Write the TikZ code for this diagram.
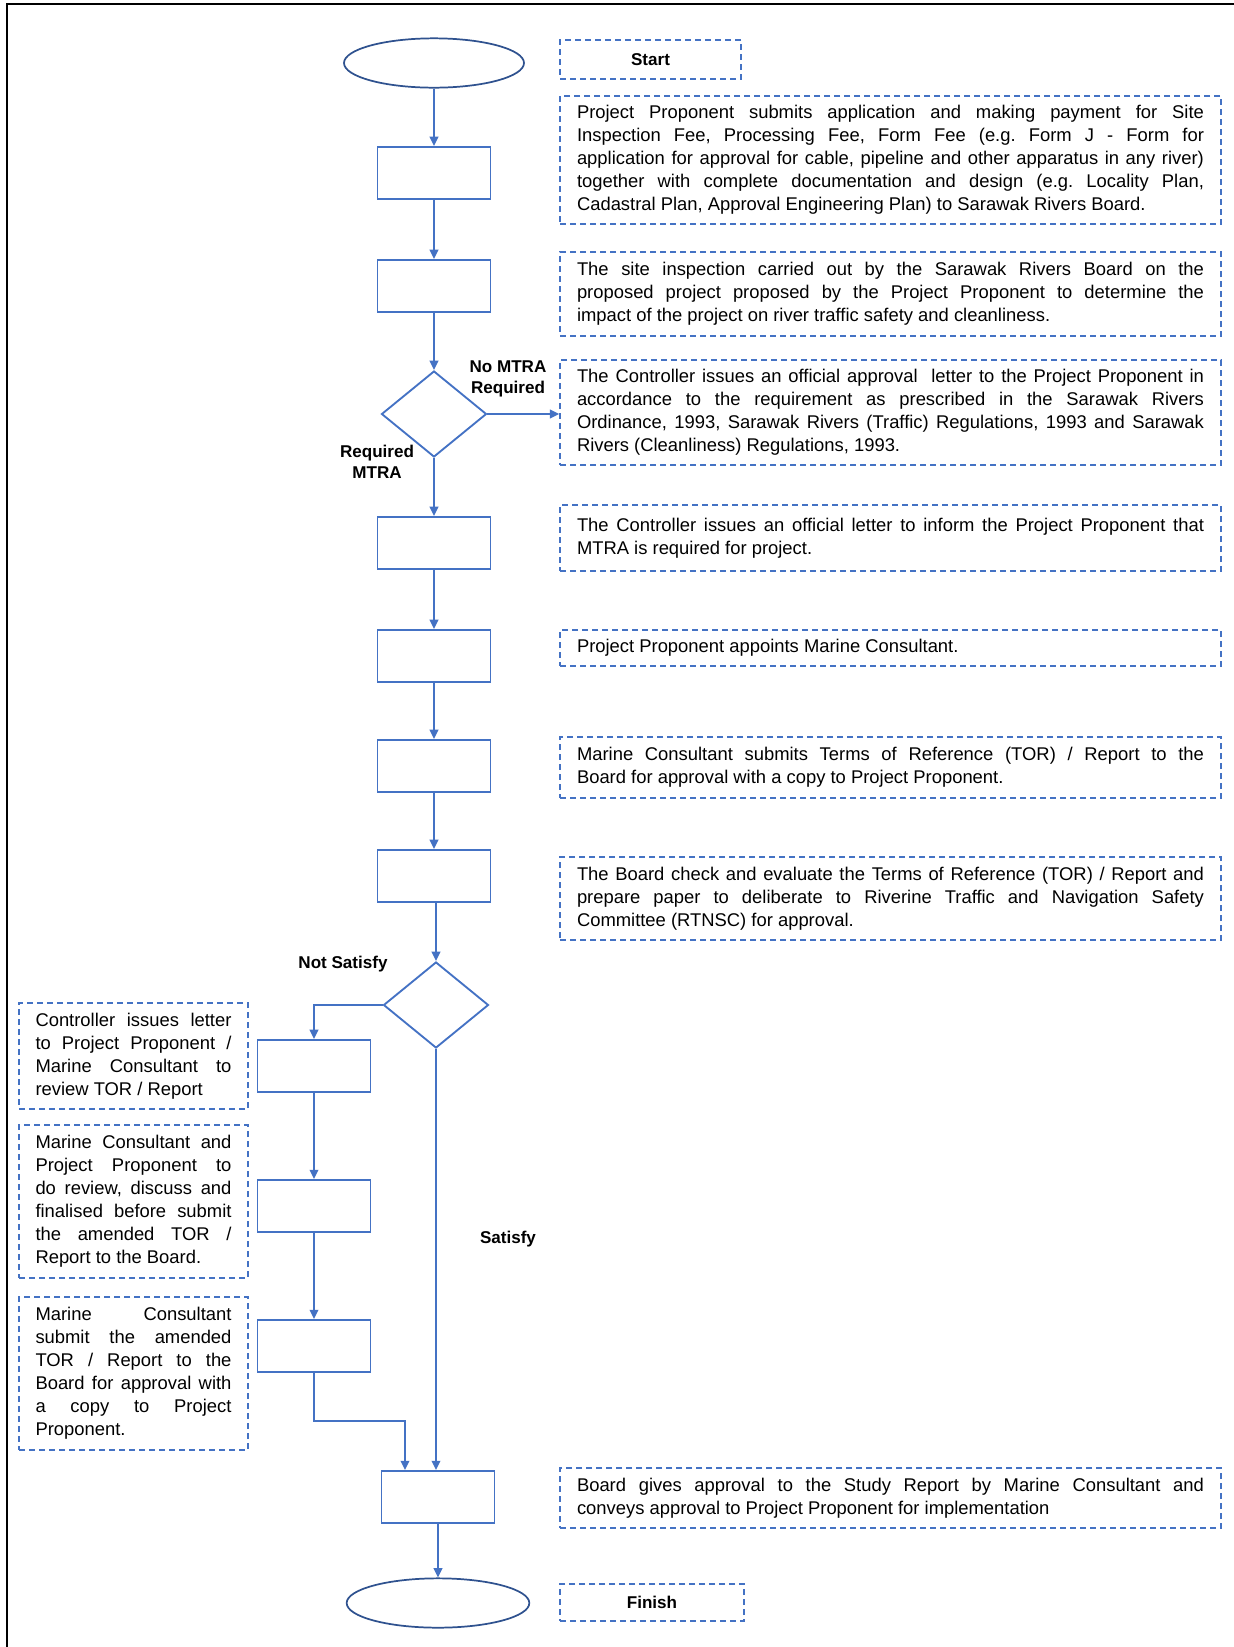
\documentclass[tikz,border=0pt]{standalone}
\usepackage{fontspec}
\setmainfont{Liberation Sans}
\usepackage{tikz}
\usetikzlibrary{shapes.geometric}
\usetikzlibrary{arrows.meta}
\definecolor{flowblue}{RGB}{68,114,196}
\definecolor{termblue}{RGB}{47,82,143}
\newcommand{\bodyfont}{\frenchspacing\fontsize{13.8pt}{17.25pt}\selectfont}
\newcommand{\lblfont}{\fontsize{12.8pt}{15.75pt}\selectfont\bfseries}
\tikzset{
  proc/.style={draw=flowblue, line width=1.4pt, minimum width=84.75pt, minimum height=39pt, inner sep=0pt},
  decision/.style={diamond, draw=flowblue, line width=1.4pt, minimum width=78.75pt, minimum height=64.5pt, inner sep=0pt},
  terminal/.style={ellipse, draw=termblue, line width=1.3pt, minimum width=135pt, minimum height=37pt, inner sep=0pt},
  note/.style={draw=flowblue, line width=1.2pt, dash pattern=on 4.5pt off 3pt, text width=470.25pt,
    inner xsep=12.75pt, inner ysep=3pt, align=justify, font=\bodyfont},
  sidenote/.style={note, text width=147pt, inner xsep=12.375pt},
  tag/.style={draw=flowblue, line width=1.2pt, dash pattern=on 4.5pt off 3pt, inner sep=0pt, font=\lblfont},
  lbl/.style={align=center, font=\lblfont},
  flow/.style={draw=flowblue, line width=1.4pt, -{Triangle[length=7pt,width=6.5pt]}}
}
\begin{document}
\begin{tikzpicture}[x=0.75pt, y=-0.75pt]
  \useasboundingbox (0,0) rectangle (1234,1647);
  \draw[line width=1.5pt] (7,1647) -- (7,4) -- (1234,4);

  % main column
  \node[terminal] (start) at (434,63) {};
  \node[proc] (p1) at (434,173) {};
  \node[proc] (p2) at (434,286) {};
  \node[decision] (d1) at (434,414) {};
  \node[proc] (p3) at (434,543) {};
  \node[proc] (p4) at (434,656) {};
  \node[proc] (p5) at (434,766) {};
  \node[proc] (p6) at (434,876) {};
  \node[decision] (d2) at (436,1005) {};
  \node[proc] (fin) at (438,1497) {};
  \node[terminal, minimum width=137pt] (finish) at (438,1603) {};

  % left branch
  \node[proc] (l1) at (314,1066) {};
  \node[proc] (l2) at (314,1206) {};
  \node[proc] (l3) at (314,1346) {};
  \coordinate (bend) at (405,1421);

  % descriptions
  \node[tag, minimum width=135.75pt, minimum height=29.25pt] (tstart) at (650.5,59.5) {Start};
  \node[note, minimum height=96pt] (t1) at (890.5,160) {Project Proponent submits application and making payment for Site\linebreak
    Inspection Fee, Processing Fee, Form Fee (e.g. Form J - Form for\linebreak
    application for approval for cable, pipeline and other apparatus in any river)\linebreak
    together with complete documentation and design (e.g. Locality Plan,\linebreak
    Cadastral Plan, Approval Engineering Plan) to Sarawak Rivers Board.};
  \node[note, minimum height=63pt] (t2) at (890.5,294) {The site inspection carried out by the Sarawak Rivers Board on the\linebreak
    proposed project proposed by the Project Proponent to determine the\linebreak
    impact of the project on river traffic safety and cleanliness.};
  \node[note, minimum height=78.75pt] (t3) at (890.5,412.5) {The Controller issues an official approval\ \ letter to the Project Proponent in\linebreak
    accordance to the requirement as prescribed in the Sarawak Rivers\linebreak
    Ordinance, 1993, Sarawak Rivers (Traffic) Regulations, 1993 and Sarawak\linebreak
    Rivers (Cleanliness) Regulations, 1993.};
  \node[note, minimum height=49.5pt] (t4) at (890.5,538) {The Controller issues an official letter to inform the Project Proponent that\linebreak
    MTRA is required for project.};
  \node[note, minimum height=27pt] (t5) at (890.5,648) {Project Proponent appoints Marine Consultant.};
  \node[note, minimum height=45.75pt] (t6) at (890.5,767.5) {Marine Consultant submits Terms of Reference (TOR) / Report to the\linebreak
    Board for approval with a copy to Project Proponent.};
  \node[note, minimum height=62.25pt] (t7) at (890.5,898.5) {The Board check and evaluate the Terms of Reference (TOR) / Report and\linebreak
    prepare paper to deliberate to Riverine Traffic and Navigation Safety\linebreak
    Committee (RTNSC) for approval.};
  \node[sidenote, minimum height=79.5pt] (tl1) at (133.5,1056) {Controller issues letter\linebreak
    to Project Proponent /\linebreak Marine Consultant to\linebreak review TOR / Report};
  \node[sidenote, minimum height=114.75pt] (tl2) at (133.5,1201.5) {Marine Consultant and\linebreak
    Project Proponent to\linebreak do review, discuss and\linebreak finalised before submit\linebreak
    the amended TOR /\linebreak Report to the Board.};
  \node[sidenote, minimum height=114.75pt] (tl3) at (133.5,1373.5) {Marine Consultant\linebreak
    submit the amended\linebreak TOR / Report to the\linebreak Board for approval with\linebreak
    a copy to Project\linebreak Proponent.};
  \node[note, minimum height=45pt] (tfin) at (890.5,1498) {Board gives approval to the Study Report by Marine Consultant and\linebreak
    conveys approval to Project Proponent for implementation};
  \node[tag, minimum width=138pt, minimum height=27.75pt] (tfinish) at (652,1602.5) {Finish};

  % branch labels
  \node[lbl] (nomtra) at (508,379) {No MTRA\\Required};
  \node[lbl] (reqmtra) at (377,462) {Required\\MTRA};
  \node[lbl] (notsat) at (343,964) {Not Satisfy};
  \node[lbl] (sat) at (508,1239) {Satisfy};

  % connectors
  \draw[flow] (start) -- (p1);
  \draw[flow] (p1) -- (p2);
  \draw[flow] (p2) -- (d1.north);
  \draw[flow] (d1.east) -- (d1.east -| t3.west);
  \draw[flow] (d1.south) -- (p3.north);
  \draw[flow] (p3) -- (p4);
  \draw[flow] (p4) -- (p5);
  \draw[flow] (p5) -- (p6);
  \draw[flow] (p6.south -| d2.north) -- (d2.north);
  \draw[flow] (d2.west) -| (l1.north);
  \draw[flow] (l1) -- (l2);
  \draw[flow] (l2) -- (l3);
  \draw[flow] (l3.south) |- (bend) -- (bend |- fin.north);
  \draw[flow] (d2.south) -- (d2.south |- fin.north);
  \draw[flow] (fin) -- (finish);
\end{tikzpicture}
\end{document}
